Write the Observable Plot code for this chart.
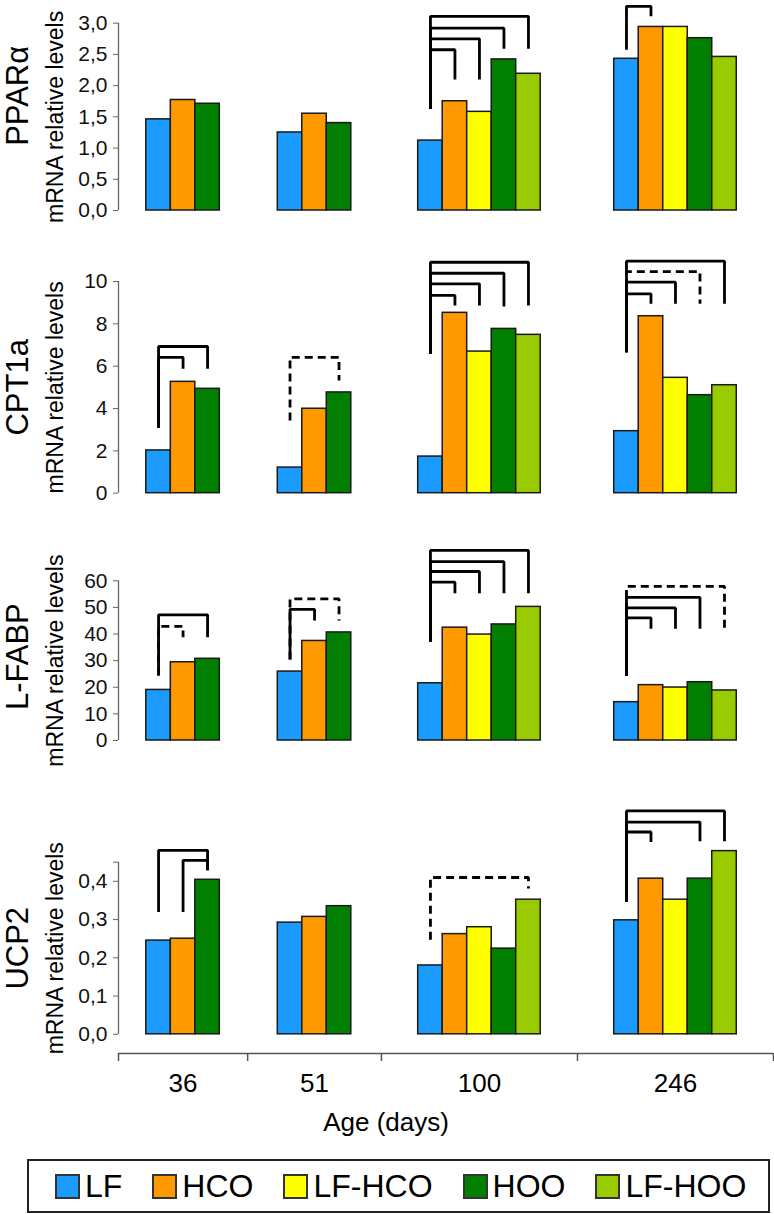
<!DOCTYPE html>
<html><head><meta charset="utf-8">
<script src="https://cdn.jsdelivr.net/npm/d3@7"></script>
<script src="https://cdn.jsdelivr.net/npm/@observablehq/plot@0.6"></script>
<style>
html,body{margin:0;padding:0;background:#fff;}
#fig{position:relative;width:774px;height:1214px;font-family:"Liberation Sans",Arial,sans-serif;}
#fig svg{position:absolute;left:0;overflow:visible;}
.legend{position:absolute;left:27px;top:1159px;width:743px;height:54px;box-sizing:border-box;border:2px solid #222;display:flex;align-items:center;padding-left:26px;white-space:nowrap;}
.item{display:flex;align-items:center;margin-right:30px;font-size:32px;color:#000;flex-shrink:0;white-space:nowrap;}
.sw{width:25px;height:25px;box-sizing:border-box;border:2px solid #333;margin-right:5px;flex-shrink:0;}
</style></head><body><div id="fig"></div>
<script>
// ---- data ----
const series = ["LF", "HCO", "LF-HCO", "HOO", "LF-HOO"];
const seriesColors = ["#1c9bff", "#ff9900", "#ffff00", "#007f00", "#99cc00"];
const ages = ["36", "51", "100", "246"];

// values in series order, null = not measured
const pparValues = {"36": [1.46, 1.77, null, 1.71, null], "51": [1.25, 1.55, null, 1.40, null],
  "100": [1.12, 1.75, 1.58, 2.42, 2.19], "246": [2.43, 2.94, 2.94, 2.76, 2.46]};
const cptValues = {"36": [2.02, 5.26, null, 4.93, null], "51": [1.21, 3.99, null, 4.76, null],
  "100": [1.73, 8.52, 6.69, 7.76, 7.48], "246": [2.93, 8.36, 5.45, 4.63, 5.10]};
const lfabpValues = {"36": [19.0, 29.4, null, 30.7, null], "51": [25.9, 37.4, null, 40.6, null],
  "100": [21.5, 42.4, 39.8, 43.6, 50.2], "246": [14.4, 20.8, 19.9, 21.9, 18.8]};
const ucpValues = {"36": [0.245, 0.250, null, 0.404, null], "51": [0.292, 0.307, null, 0.335, null],
  "100": [0.180, 0.262, 0.280, 0.224, 0.352], "246": [0.298, 0.407, 0.352, 0.407, 0.479]};

// significance brackets: [age, from, to, top, fromBottom, toBottom, dashed]
const pparBrackets = [
  ["100", "LF", "HCO", 2.575, 1.63, 2.10, false],
  ["100", "LF", "LF-HCO", 2.75, 1.63, 2.10, false],
  ["100", "LF", "HOO", 2.92, 1.63, 2.59, false],
  ["100", "LF", "LF-HOO", 3.11, 1.63, 2.59, false],
  ["246", "LF", "HCO", 3.27, 2.575, 3.11, false]];
const cptBrackets = [
  ["36", "LF", "HCO", 6.42, 3.09, 5.88, false],
  ["36", "LF", "HOO", 6.93, 3.09, 5.88, false],
  ["51", "LF", "HOO", 6.42, 3.43, 5.32, true],
  ["100", "LF", "HCO", 9.34, 6.58, 8.87, false],
  ["100", "LF", "LF-HCO", 9.89, 6.58, 8.87, false],
  ["100", "LF", "HOO", 10.39, 6.58, 8.82, false],
  ["100", "LF", "LF-HOO", 10.91, 6.58, 8.87, false],
  ["246", "LF", "HCO", 9.42, 6.66, 8.95, false],
  ["246", "LF", "LF-HCO", 9.97, 6.66, 8.95, false],
  ["246", "LF", "HOO", 10.47, 6.66, 8.95, true],
  ["246", "LF", "LF-HOO", 10.96, 6.66, 8.95, false]];
const lfabpBrackets = [
  ["36", "LF", "HCO", 42.9, 24.4, 38.8, true],
  ["36", "LF", "HOO", 47.2, 24.4, 38.8, false],
  ["51", "LF", "HCO", 49.3, 30.4, 45.1, false],
  ["51", "LF", "HOO", 53.2, 30.4, 45.1, true],
  ["100", "LF", "HCO", 59.5, 37.2, 55.3, false],
  ["100", "LF", "LF-HCO", 63.5, 37.2, 55.3, false],
  ["100", "LF", "HOO", 67.2, 37.2, 55.3, false],
  ["100", "LF", "LF-HOO", 71.4, 37.2, 55.3, false],
  ["246", "LF", "HCO", 46.1, 24.2, 42.0, false],
  ["246", "LF", "LF-HCO", 49.8, 24.2, 42.0, false],
  ["246", "LF", "HOO", 53.8, 24.2, 42.0, false],
  ["246", "LF", "LF-HOO", 57.9, 24.2, 41.7, true]];
const ucpBrackets = [
  ["36", "LF", "HOO", 0.481, 0.320, 0.429, false],
  ["36", "HCO", "HOO", 0.455, 0.320, 0.429, false],
  ["100", "LF", "LF-HOO", 0.41, 0.247, 0.381, true],
  ["246", "LF", "HCO", 0.529, 0.346, 0.503, false],
  ["246", "LF", "HOO", 0.555, 0.346, 0.505, false],
  ["246", "LF", "LF-HOO", 0.584, 0.346, 0.505, false]];

const pparTicks = [0, 0.5, 1, 1.5, 2, 2.5, 3];
const cptTicks = [0, 2, 4, 6, 8, 10];
const lfabpTicks = [0, 10, 20, 30, 40, 50, 60];
const ucpTicks = [0, 0.1, 0.2, 0.3, 0.4, 0.45];

// ---- layout (in bar-width units) ----
const bandWidths = [5.27, 5.46, 8, 8];
const xMax = d3.sum(bandWidths);
const bandStart = {};
{ let acc = 0; ages.forEach((a, i) => { bandStart[a] = acc; acc += bandWidths[i]; }); }
const bounds = [0, ...ages.map((a, i) => bandStart[a] + bandWidths[i])];
const bandCenter = a => bandStart[a] + bandWidths[ages.indexOf(a)] / 2;

const fig = document.getElementById("fig");
const FONT = '"Liberation Sans", Arial, sans-serif';
const comma1 = d => d3.format(".1f")(d).replace(".", ",");

function panel(o) {
  const present = a => series.filter((s, k) => o.values[a][k] != null);
  const startOf = a => bandCenter(a) - present(a).length / 2;
  const rows = [];
  ages.forEach(a => present(a).forEach((s, j) => rows.push({
    age: a, series: s, value: o.values[a][series.indexOf(s)], x1: startOf(a) + j, x2: startOf(a) + j + 1})));
  const cx = (a, s) => startOf(a) + present(a).indexOf(s) + 0.5;
  const pts = dashed => o.brackets.flatMap((b, i) => b[6] !== dashed ? [] : [
    {id: i, x: cx(b[0], b[1]), y: b[4]}, {id: i, x: cx(b[0], b[1]), y: b[3]},
    {id: i, x: cx(b[0], b[2]), y: b[3]}, {id: i, x: cx(b[0], b[2]), y: b[5]}]);
  const lineOpts = {x: "x", y: "y", z: "id", stroke: "#000", strokeWidth: 2.8, strokeLinejoin: "miter", strokeLinecap: "butt"};
  const svg = Plot.plot({
    width: 774, height: o.height, marginLeft: 118, marginRight: 1, marginTop: o.mt, marginBottom: o.mb,
    x: {domain: [0, xMax], axis: null},
    y: {domain: o.domain},
    color: {domain: series, range: seriesColors},
    style: {fontFamily: FONT, fontSize: "21px", background: "none", overflow: "visible", color: "#000"},
    marks: [
      Plot.ruleX([0], {y1: 0, y2: o.domain[1], stroke: "#666", strokeWidth: 1.3}),
      Plot.axisY({ticks: o.ticks, tickSize: 5, tickPadding: 6, tickFormat: o.fmt, fontSize: 21, stroke: "#666", fill: "#111"}),
      Plot.rect(rows, {x1: "x1", x2: "x2", y1: 0, y2: "value", fill: "series", stroke: "#1a1a1a", strokeWidth: 1.5}),
      Plot.line(pts(false), lineOpts),
      Plot.line(pts(true), {...lineOpts, strokeDasharray: "8,5"}),
      Plot.text(["mRNA relative levels"], {text: d => d, frameAnchor: "left", textAnchor: "middle", dx: -56, rotate: -90, lineAnchor: "bottom", fontSize: 23, fill: "#000"}),
      Plot.text([o.title], {text: d => d, frameAnchor: "left", textAnchor: "middle", dx: -91, dy: o.titleDy || 0, rotate: -90, lineAnchor: "bottom", fontSize: 31, fill: "#000"})
    ]
  });
  svg.style.top = o.top + "px";
  fig.appendChild(svg);
}

panel({top: 0, height: 240, mt: 22.7, mb: 30, values: pparValues, brackets: pparBrackets, domain: [0, 3], ticks: pparTicks, fmt: comma1, title: "PPARα", titleDy: -21});
panel({top: 240, height: 270, mt: 41, mb: 17.3, values: cptValues, brackets: cptBrackets, domain: [0, 10], ticks: cptTicks, fmt: d => String(d), title: "CPT1a"});
panel({top: 510, height: 250, mt: 70.3, mb: 20, values: lfabpValues, brackets: lfabpBrackets, domain: [0, 60], ticks: lfabpTicks, fmt: d => String(d), title: "L-FABP", titleDy: -4});
panel({top: 760, height: 290, mt: 101.7, mb: 16.2, values: ucpValues, brackets: ucpBrackets, domain: [0, 0.45], ticks: ucpTicks, fmt: d => d === 0.45 ? "" : comma1(d), title: "UCP2"});

// bottom age axis
const axisSvg = Plot.plot({
  width: 774, height: 110, marginLeft: 118, marginRight: 1, marginTop: 13, marginBottom: 89,
  x: {domain: [0, xMax], axis: null}, y: {domain: [0, 1], axis: null},
  style: {fontFamily: FONT, fontSize: "26px", background: "none", overflow: "visible", color: "#000"},
  marks: [
    Plot.ruleY([1], {x1: 0, x2: xMax, stroke: "#555", strokeWidth: 1.5}),
    Plot.ruleX(bounds, {y1: 0, y2: 1, stroke: "#555", strokeWidth: 1.5}),
    Plot.text(ages, {x: a => bandCenter(a), text: d => d, frameAnchor: "bottom", dy: 22, lineAnchor: "middle", fontSize: 26, fill: "#000"}),
    Plot.text(["Age (days)"], {text: d => d, frameAnchor: "bottom", dx: -60, dy: 61, lineAnchor: "middle", fontSize: 26, fill: "#000"})
  ]
});
axisSvg.style.top = "1040px";
fig.appendChild(axisSvg);

// legend
const leg = document.createElement("div");
leg.className = "legend";
series.forEach((s, i) => {
  const it = document.createElement("div"); it.className = "item";
  const sw = document.createElement("div"); sw.className = "sw"; sw.style.background = seriesColors[i];
  const tx = document.createElement("span"); tx.textContent = s;
  it.appendChild(sw); it.appendChild(tx); leg.appendChild(it);
});
fig.appendChild(leg);
</script></body></html>
